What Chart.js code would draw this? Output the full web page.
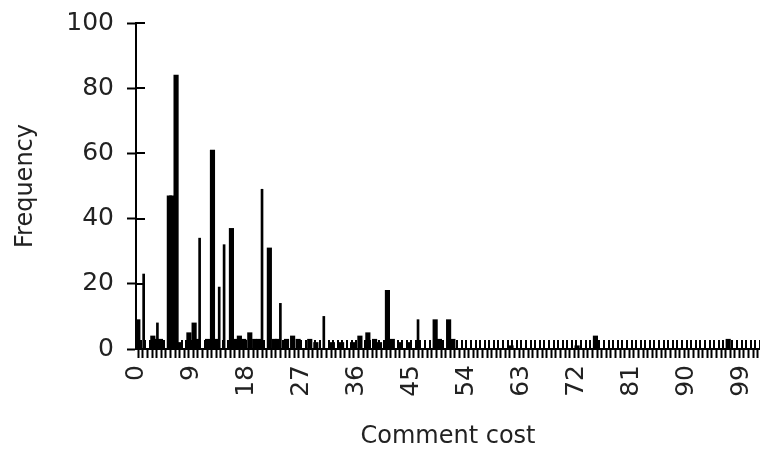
<!DOCTYPE html>
<html>
<head>
<meta charset="utf-8">
<script src="https://cdn.jsdelivr.net/npm/chart.js@4.4.1/dist/chart.umd.min.js"></script>
<style>
  html, body { margin: 0; padding: 0; background: #fff; }
  #wrap { width: 760px; height: 452px; }
</style>
</head>
<body>
<div id="wrap"><canvas id="chHist"></canvas></div>
<script>
// comment cost histogram
var wideCost = [0.3, 2.75, 3.3, 4.0, 5.45, 5.85, 6.55, 7.1, 8.65, 9.5, 10.0, 11.7, 12.5, 13.2, 15.6, 16.2, 16.9, 17.6, 18.6, 19.4, 20.1, 21.8, 22.6, 23.1, 24.6, 25.6, 26.5, 28.4, 29.4, 32.1, 33.6, 35.4, 36.6, 37.9, 39.0, 39.8, 41.1, 41.9, 43.2, 44.6, 48.9, 49.6, 51.1, 51.8, 61.3, 72.1, 75.1, 96.8];
var wideFreq = [9, 4, 3, 3, 47, 47, 84, 2, 5, 8, 3, 3, 61, 3, 37, 3, 4, 3, 5, 3, 3, 31, 3, 3, 3, 4, 3, 3, 2, 2, 2, 2, 4, 5, 3, 2, 18, 3, 2, 2, 9, 3, 9, 3, 1, 1, 4, 3];

var thinCost = [1.25, 3.5, 10.4, 13.6, 14.4, 20.6, 23.6, 30.7, 46.1];
var thinFreq = [23, 8, 34, 19, 32, 49, 14, 10, 9];

var yTicks = [0, 20, 40, 60, 80, 100];
var xLabelStep = 9;
var xTickStep = 0.75;

function points(xs, ys) {
  return xs.map(function (x, i) { return { x: x, y: ys[i] }; });
}

var titleFont = { family: 'DejaVu Sans', size: 24 };
var tickFont = { family: 'DejaVu Sans', size: 25 };
var ink = '#000';

// ticks that cross the axis line (the inner half)
var innerTicks = {
  id: 'innerTicks',
  afterDatasetsDraw: function (chart) {
    var ctx = chart.ctx, xs = chart.scales.x, ys = chart.scales.y;
    var area = chart.chartArea;
    ctx.save();
    ctx.strokeStyle = ink;
    ctx.lineWidth = 2;
    ctx.beginPath();
    xs.ticks.forEach(function (t) {
      var px = Math.round(xs.getPixelForValue(t.value));
      ctx.moveTo(px, area.bottom);
      ctx.lineTo(px, area.bottom - 9);
    });
    ys.ticks.forEach(function (t) {
      var py = Math.round(ys.getPixelForValue(t.value));
      ctx.moveTo(area.left, py);
      ctx.lineTo(area.left + 9, py);
    });
    ctx.stroke();
    ctx.restore();
  }
};

new Chart(document.getElementById('chHist'), {
  type: 'bar',
  data: {
    datasets: [{
      data: points(wideCost, wideFreq),
      backgroundColor: ink,
      barThickness: 4.5,
      grouped: false
    }, {
      data: points(thinCost, thinFreq),
      backgroundColor: ink,
      barThickness: 2,
      grouped: false
    }]
  },
  options: {
    responsive: true,
    maintainAspectRatio: false,
    animation: false,
    layout: { padding: { top: 23, right: 0, left: 0, bottom: 0 } },
    plugins: {
      legend: { display: false },
      tooltip: { enabled: false }
    },
    scales: {
      x: {
        type: 'linear',
        min: 0,
        max: 102,
        offset: false,
        grid: { drawOnChartArea: false, tickLength: 9, tickWidth: 2, tickColor: ink },
        border: { color: ink, width: 2 },
        ticks: {
          stepSize: xTickStep,
          autoSkip: false,
          minRotation: 90,
          maxRotation: 90,
          padding: 7,
          color: '#222',
          font: tickFont,
          callback: function (v) { return v % xLabelStep === 0 ? String(v) : ''; }
        },
        title: { display: true, text: 'Comment cost', color: '#222', font: titleFont, padding: { top: 0, bottom: 1 } },
        afterFit: function (scale) {
          scale.height = 103;
          scale.paddingLeft = 0;
          scale.paddingRight = 0;
        }
      },
      y: {
        min: 0,
        max: 100,
        grid: { drawOnChartArea: false, tickLength: 9, tickWidth: 2, tickColor: ink },
        border: { color: ink, width: 2 },
        afterBuildTicks: function (scale) {
          scale.ticks = yTicks.map(function (v) { return { value: v }; });
        },
        ticks: { padding: 13, color: '#222', font: tickFont },
        title: { display: true, text: 'Frequency', color: '#222', font: titleFont, padding: { top: 11, bottom: 0 } },
        afterFit: function (scale) {
          scale.width = 136;
          scale.paddingTop = 0;
          scale.paddingBottom = 0;
        }
      }
    }
  },
  plugins: [innerTicks]
});
</script>
</body>
</html>
